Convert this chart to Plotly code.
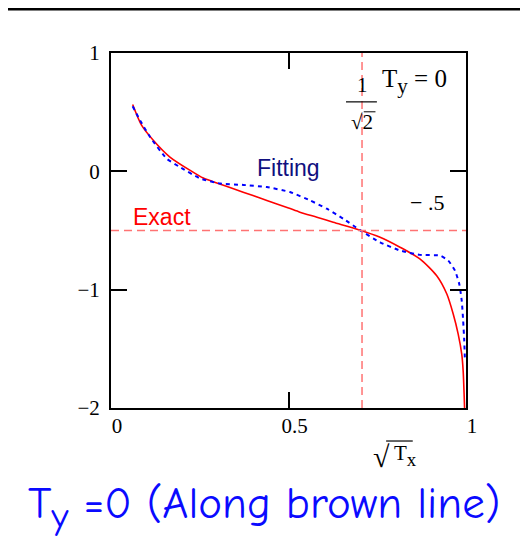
import numpy as np
import plotly.graph_objects as go

# values
exact_x = [0.061, 0.086, 0.119, 0.166, 0.223, 0.26, 0.30, 0.345, 0.40, 0.439, 0.50, 0.532,
           0.58, 0.626, 0.70, 0.758, 0.814, 0.87, 0.917, 0.946, 0.964, 0.978, 0.988, 0.992, 0.996]
exact_y = [0.565, 0.39, 0.263, 0.121, 0.008, -0.057, -0.10, -0.147, -0.205, -0.246, -0.31, -0.345,
           -0.388, -0.43, -0.495, -0.557, -0.641, -0.74, -0.881, -1.037, -1.206, -1.376, -1.545, -1.686, -2.0]

fit_x = [0.061, 0.082, 0.11, 0.157, 0.194, 0.251, 0.307, 0.373, 0.439, 0.504, 0.561, 0.608,
         0.654, 0.70, 0.758, 0.814, 0.87, 0.927, 0.95, 0.969, 0.981, 0.988, 0.992, 0.995, 0.997]
fit_y = [0.55, 0.43, 0.29, 0.107, 0.036, -0.06, -0.103, -0.115, -0.133, -0.175, -0.246, -0.316,
         -0.40, -0.494, -0.60, -0.669, -0.706, -0.712, -0.754, -0.839, -0.952, -1.093, -1.263, -1.43, -1.6]

x_ticks = [0, 0.5, 1]
x_ticktext = ["0", "0.5", "1"]
y_ticks = [-2, -1, 0, 1]

x_mark = 1 / np.sqrt(2)   # vertical marker
y_mark = -0.5             # horizontal marker

serif = "Liberation Serif"
sans = "Liberation Sans"

fig = go.Figure()

fig.add_vline(x=x_mark, line=dict(color="#ff7373", width=1.5, dash="8px,5px"))
fig.add_hline(y=y_mark, line=dict(color="#ff7373", width=1.5, dash="8px,5px"))

fig.add_trace(go.Scatter(x=exact_x, y=exact_y, mode="lines",
                         line=dict(color="#ff0000", width=1.6, shape="spline", smoothing=0.7),
                         showlegend=False))
fig.add_trace(go.Scatter(x=fit_x, y=fit_y, mode="lines",
                         line=dict(color="#0000ff", width=2, dash="4px,4px", shape="spline", smoothing=0.5),
                         showlegend=False))

# in-plot labels
fig.add_annotation(x=0.5, y=0.025, text="Fitting", showarrow=False,
                   font=dict(family=sans, size=23, color="#10107f"))
fig.add_annotation(x=0.144, y=-0.39, text="Exact", showarrow=False,
                   font=dict(family=sans, size=23, color="#ff0000"))
fig.add_annotation(x=0.889, y=-0.263, text="\u2212 .5", showarrow=False,
                   font=dict(family=serif, size=22, color="black"))
fig.add_annotation(x=0.855, y=0.76,
                   text="T<span style='font-size:30px'><sub>y</sub></span> = 0", showarrow=False,
                   font=dict(family=serif, size=25, color="black"))
# fraction 1/sqrt(2)
fig.add_annotation(x=x_mark, y=0.73, text="1", showarrow=False,
                   font=dict(family=serif, size=21, color="black"))
fig.add_annotation(x=x_mark, y=0.42, text="\u221a2", showarrow=False,
                   font=dict(family=serif, size=21, color="black"))
fig.add_shape(type="line", x0=0.662, x1=0.749, y0=0.587, y1=0.587,
              line=dict(color="black", width=1.2))
fig.add_shape(type="line", x0=0.712, x1=0.745, y0=0.503, y1=0.503,
              line=dict(color="black", width=1))

# axis title sqrt(Tx)
fig.add_annotation(xref="paper", yref="paper", x=0.763, y=-0.138, text="\u221a",
                   xanchor="center", yanchor="middle",
                   showarrow=False, font=dict(family=serif, size=30, color="black"))
fig.add_annotation(xref="paper", yref="paper", x=0.83, y=-0.135,
                   text="T<span style='font-size:27px'><sub>x</sub></span>",
                   xanchor="center", yanchor="middle",
                   showarrow=False, font=dict(family=serif, size=21, color="black"))
fig.add_shape(type="line", xref="paper", yref="paper", x0=0.775, x1=0.85, y0=-0.093, y1=-0.093,
              line=dict(color="black", width=1.2))

# caption
fig.add_annotation(xref="paper", yref="paper", x=0.431, y=-0.279,
                   xanchor="center", yanchor="middle",
                   text="T<span style='font-size:54px'><sub>y</sub></span> =0 (Along brown line)",
                   showarrow=False,
                   font=dict(family="Comic Sans MS, Comic Neue, Noto Sans", size=45, color="#0a0aff"))

# slide decorations
fig.add_shape(type="line", xref="paper", yref="paper", x0=-0.32, x1=1.18, y0=1.124, y1=1.124,
              line=dict(color="black", width=3))
fig.add_shape(type="line", xref="paper", yref="paper", x0=1.155, x1=1.155, y0=1.118, y1=-0.45,
              line=dict(color="#d8d8d8", width=1.5))

fig.update_xaxes(range=[0, 1], tickvals=x_ticks, ticktext=x_ticktext,
                 ticks="inside", ticklen=16, tickwidth=2, tickcolor="black",
                 showline=True, linewidth=2, linecolor="black", mirror="ticks",
                 showgrid=False, zeroline=False, ticklabelshift=6, ticklabelstandoff=-2,
                 tickfont=dict(family=serif, size=21, color="black"))
fig.update_yaxes(range=[-2, 1], tickvals=y_ticks,
                 ticks="inside", ticklen=16, tickwidth=2, tickcolor="black",
                 showline=True, linewidth=2, linecolor="black", mirror="ticks",
                 showgrid=False, zeroline=False, ticklabelstandoff=5,
                 tickfont=dict(family=serif, size=21, color="black"))

fig.update_layout(width=528, height=556, margin=dict(l=103, r=70, t=45, b=156),
                  plot_bgcolor="white", paper_bgcolor="white")

fig.write_html("out.html")
